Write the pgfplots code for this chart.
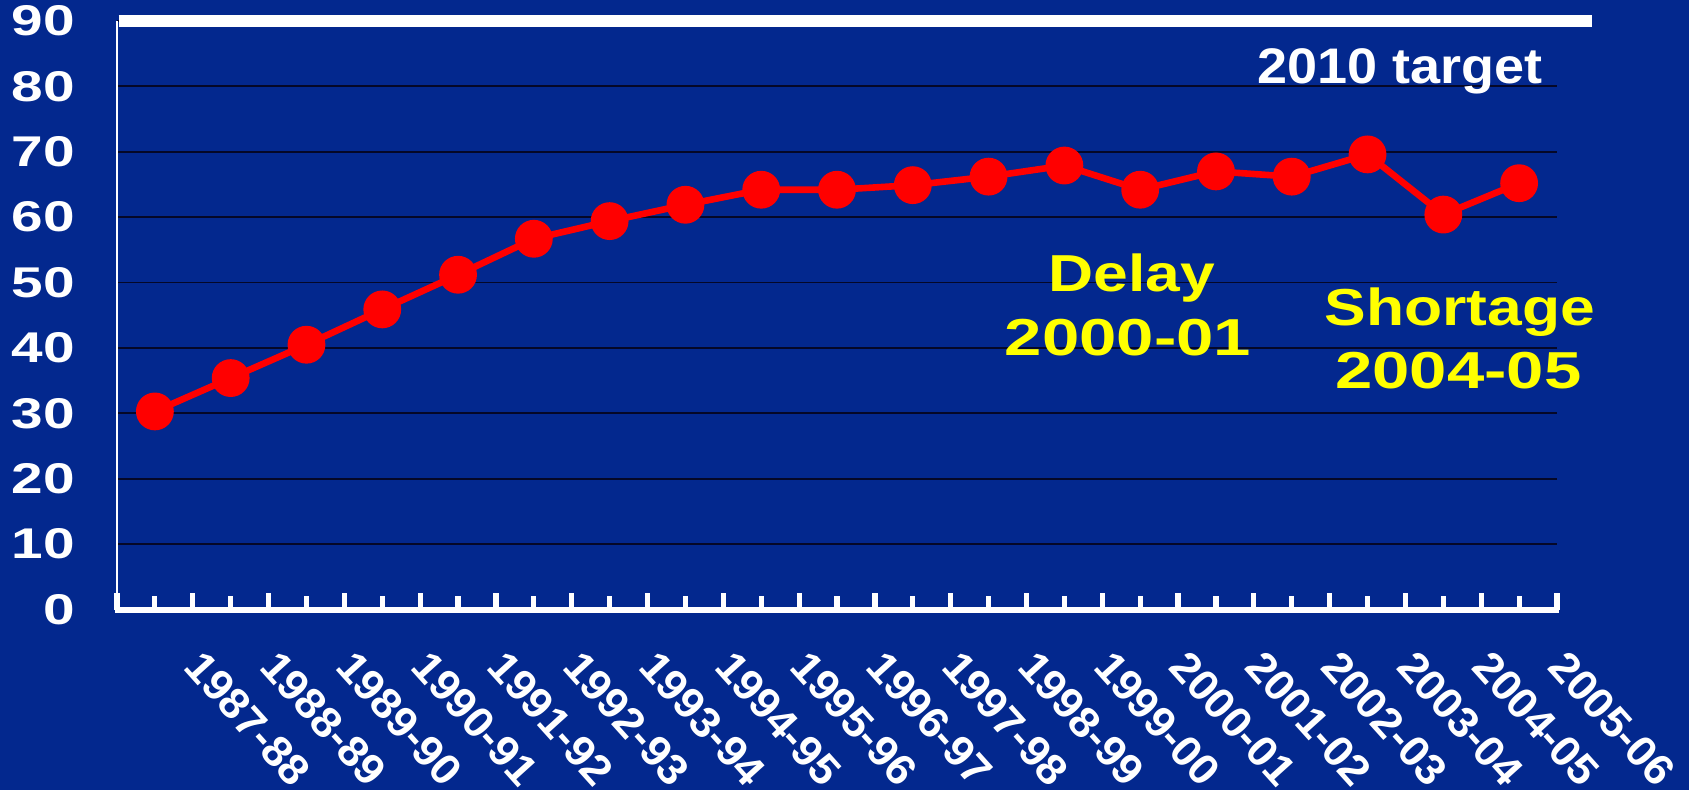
\documentclass[border=0pt]{standalone}
\usepackage{fontspec}
\setmainfont{Liberation Sans}
\newfontfamily\ylf{Liberation Sans}[FakeStretch=1.32]
\newfontfamily\xlf{Liberation Sans}[FakeStretch=1.03]
\newfontfamily\anf{Liberation Sans}[FakeStretch=1.2]
\newfontfamily\anfd{Liberation Sans}[FakeStretch=1.29]
\newfontfamily\tgf{Liberation Sans}[FakeStretch=1.08]
\usepackage{pgfplots}
\pgfplotsset{compat=1.18}
\definecolor{bgblue}{RGB}{3,40,142}
\definecolor{gridc}{RGB}{5,8,40}
\definecolor{annyellow}{RGB}{255,255,0}

\begin{document}
\begin{tikzpicture}
\useasboundingbox (0,0) rectangle (844.5pt,395pt);
\fill[bgblue] (0,0) rectangle (844.5pt,395pt);
\begin{axis}[
  at={(58.5pt,90.2pt)}, anchor=south west,
  scale only axis, width=720pt, height=294.3pt,
  xmin=0.5, xmax=19.5, ymin=0, ymax=90,
  clip=false,
  axis line style={draw=none},
  xtick pos=bottom, ytick pos=left,
  tick align=inside,
  xtick={1,...,19},
  xticklabels={1987-88,1988-89,1989-90,1990-91,1991-92,1992-93,1993-94,1994-95,1995-96,1996-97,1997-98,1998-99,1999-00,2000-01,2001-02,2002-03,2003-04,2004-05,2005-06},
  xtick style={white, line width=2.6pt, line cap=butt},
  major tick length=6.8pt,
  extra x ticks={0.5,1.5,...,19.5},
  extra x tick labels={},
  extra x tick style={major tick length=8.3pt, tick style={white, line width=2.6pt, line cap=butt}},
  ytick={0,10,...,90},
  ymajorgrids,
  grid style={gridc, line width=0.9pt},
  ytick style={draw=none},
  yticklabel style={font=\ylf\bfseries\fontsize{21.5}{24}\selectfont, text=white, anchor=east, inner sep=0pt, xshift=-21pt},
  xticklabel style={font=\xlf\bfseries\fontsize{21.5}{24}\selectfont, text=white, inner sep=0pt, xshift=25pt, yshift=-19pt, rotate=-48, anchor=north west},
  /pgf/number format/assume math mode=true,
]
\addplot[red, line width=3.3pt, mark=*, mark size=7.8pt, mark options={draw=none, fill=red}] coordinates {
(1,30.3)(2,35.4)(3,40.5)(4,45.9)(5,51.2)(6,56.7)(7,59.4)(8,61.9)(9,64.2)(10,64.2)
(11,64.9)(12,66.2)(13,67.9)(14,64.2)(15,67.0)(16,66.2)(17,69.6)(18,60.4)(19,65.2)};
\draw[white, line width=1pt] (axis cs:0.5,0) -- (axis cs:0.5,90);
\draw[white, line width=3pt] (axis cs:0.47,0) -- (axis cs:19.53,0);
\draw[white, line width=5.8pt] (axis cs:0.52,90) -- (axis cs:19.96,90);
\node[anchor=base, text=white, font=\tgf\bfseries\fontsize{25}{28}\selectfont] at (axis cs:17.43,80.5) {2010 target};
\node[anchor=base, text=annyellow, font=\anf\bfseries\fontsize{26}{30}\selectfont] at (axis cs:13.89,48.6) {Delay};
\node[anchor=base, text=annyellow, font=\anfd\bfseries\fontsize{26}{30}\selectfont] at (axis cs:13.84,38.8) {2000-01};
\node[anchor=base, text=annyellow, font=\anf\bfseries\fontsize{26}{30}\selectfont] at (axis cs:18.22,43.5) {Shortage};
\node[anchor=base, text=annyellow, font=\anfd\bfseries\fontsize{26}{30}\selectfont] at (axis cs:18.2,33.8) {2004-05};
\end{axis}
\end{tikzpicture}
\end{document}
